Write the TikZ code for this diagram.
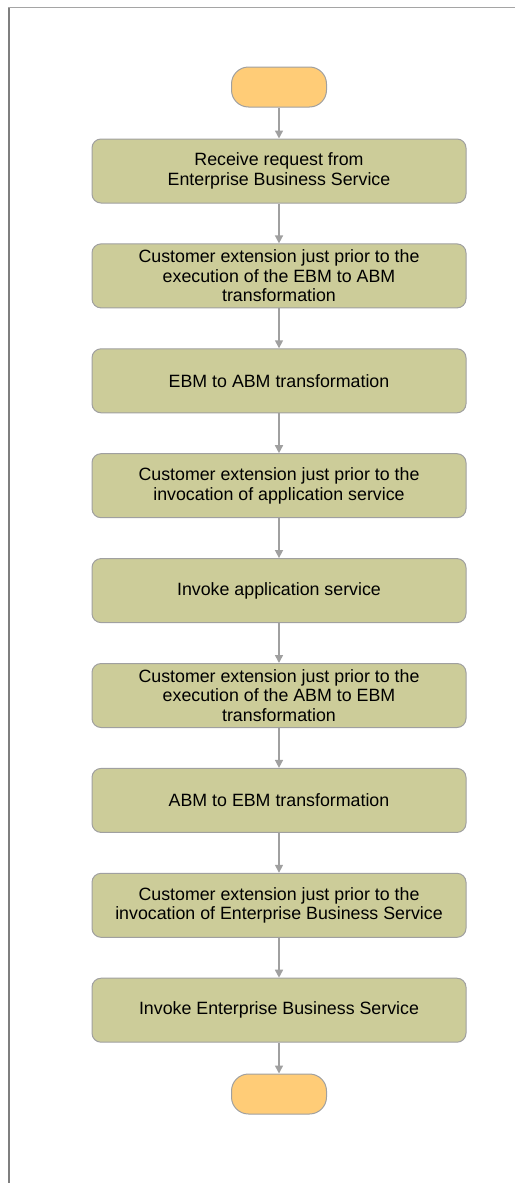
\documentclass[tikz,border=0pt]{standalone}
\usepackage{fontspec}
\setmainfont{Liberation Sans}
\usetikzlibrary{positioning, arrows.meta}
\definecolor{stepkhaki}{HTML}{CCCC99}
\definecolor{termorange}{HTML}{FFCC77}
\definecolor{linegrey}{HTML}{A0A0A0}
\definecolor{framegrey}{HTML}{7F7F7F}

\begin{document}
\begin{tikzpicture}[
    x=1pt, y=-1pt,
    font=\fontsize{17.8}{19.5}\selectfont,
    stepbox/.style={draw=linegrey, line width=1pt, fill=stepkhaki, rounded corners=9pt,
        minimum width=374pt, minimum height=64pt, align=center, inner sep=0pt},
    terminal/.style={draw=linegrey, line width=1pt, fill=termorange, rounded corners=17pt,
        minimum width=95pt, minimum height=40pt, inner sep=0pt},
    flow/.style={draw=linegrey, line width=1.5pt, -{Triangle[length=8pt, width=8pt]}},
]

\useasboundingbox (0,0) rectangle (515,1183);

% Frame
\draw[framegrey, line width=2.5pt] (9,1183) -- (9,7);
\draw[framegrey!70, line width=1.5pt] (8,7.5) -- (515,7.5);

% Start / stop
\node[terminal] (start) at (279, 87) {};
\node[terminal] (stop) at (279, 1094) {};

% Steps
\foreach \i/\txt in {
    1/{Receive request from\\Enterprise Business Service},
    2/{Customer extension just prior to the\\execution of the EBM to ABM\\transformation},
    3/{EBM to ABM transformation},
    4/{Customer extension just prior to the\\invocation of application service},
    5/{Invoke application service},
    6/{Customer extension just prior to the\\execution of the ABM to EBM\\transformation},
    7/{ABM to EBM transformation},
    8/{Customer extension just prior to the\\invocation of Enterprise Business Service},
    9/{Invoke Enterprise Business Service}} {
    \pgfmathsetmacro{\y}{171 + (\i-1)*104.9}
    \node[stepbox] (step\i) at (279, \y) {\txt};
}

% Arrows
\draw[flow] (start) -- (step1);
\foreach \i [evaluate=\i as \j using int(\i+1)] in {1,...,8}
    \draw[flow] (step\i) -- (step\j);
\draw[flow] (step9) -- (stop);

\end{tikzpicture}
\end{document}
